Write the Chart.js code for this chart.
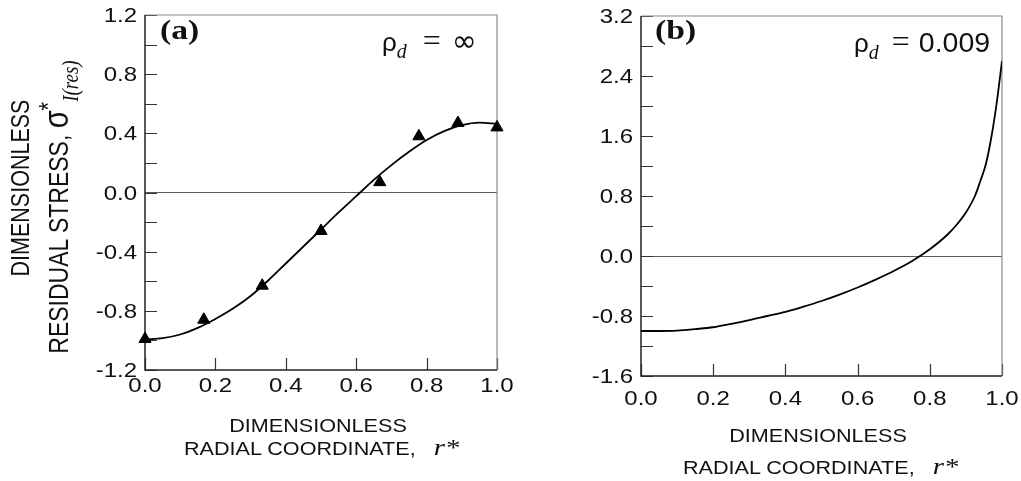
<!DOCTYPE html>
<html>
<head>
<meta charset="utf-8">
<script src="https://cdn.jsdelivr.net/npm/chart.js@4.4.1/dist/chart.umd.min.js"></script>
<style>
  html, body { margin: 0; padding: 0; background: #fff; }
  #page { position: relative; width: 1021px; height: 481px; overflow: hidden;
          font-family: "Liberation Sans", Arial, sans-serif; color: #111; }
  .box { position: absolute; top: 0; height: 481px; }
  #boxA { left: 0; width: 520px; }
  #boxB { left: 520px; width: 501px; }
  .t { position: absolute; white-space: nowrap; line-height: 1; }
  .t span { line-height: 0; }
  .xt { font-size: 18px; }
  .xt.c { transform: translate(-50%, -50%) scaleX(1.2); }
  .xt.l { transform-origin: 0 50%; transform: translate(0, -50%) scaleX(1.2); }
  .yt { transform: translate(-50%, -50%) rotate(-90deg) scaleY(1.2); }
  .panel { font: bold 28px "Liberation Serif", "Times New Roman", serif;
           transform-origin: 0 50%; transform: translate(0, -50%) scaleX(1.2); }
  .note { font-size: 28.5px; transform: translate(0, -50%); }
  .rho { font-size: 26px; }
  .sub { font: italic 20px "Liberation Serif", serif; position: relative; top: 7px; }
  .eq { font: 32px "Liberation Serif", serif; }
  .inf { font: 30px "DejaVu Sans", sans-serif; }
  .ri { font: italic 24px "Liberation Serif", serif; }
  .sig { font-size: 29px; }
  .star { position: relative; top: -9px; font-size: 22px; }
  .ires { font: italic 19px "Liberation Serif", serif; position: relative; top: 8px; }
</style>
</head>
<body>
<div id="page">
  <div class="box" id="boxA"><canvas id="chartA"></canvas></div>
  <div class="box" id="boxB"><canvas id="chartB"></canvas></div>

  <div class="t panel" style="left:160px; top:30px;">(a)</div>
  <div class="t note" style="left:382px; top:41px;"><span class="rho">ρ</span><span class="sub">d</span><span class="eq" style="margin-left:16px">=</span><span class="inf" style="margin-left:11px">∞</span></div>
  <div class="t panel" style="left:655px; top:30px;">(b)</div>
  <div class="t note" style="left:854px; top:42px;"><span class="rho">ρ</span><span class="sub">d</span><span class="eq" style="margin-left:13px">=</span><span style="margin-left:9px">0.009</span></div>

  <div class="t yt" style="left:21px; top:188px; font-size:21.5px;">DIMENSIONLESS</div>
  <div class="t yt" style="left:59px; top:207px; font-size:23px;">RESIDUAL STRESS, <span class="sig">σ</span><span class="star">*</span><span class="ires">I(res)</span></div>

  <div class="t xt c" style="left:318px; top:426px;">DIMENSIONLESS</div>
  <div class="t xt l" style="left:184px; top:449px;">RADIAL COORDINATE,&nbsp;&nbsp; <span class="ri">r*</span></div>
  <div class="t xt c" style="left:818px; top:436px;">DIMENSIONLESS</div>
  <div class="t xt l" style="left:683px; top:468px;">RADIAL COORDINATE,&nbsp;&nbsp; <span class="ri">r*</span></div>
</div>

<script>
// (a) rho_d = infinity: fitted curve and measured points
const fitR = [0, 0.05, 0.1, 0.15, 0.2, 0.25, 0.3, 0.35, 0.4, 0.45, 0.5,
              0.55, 0.6, 0.65, 0.7, 0.75, 0.8, 0.85, 0.9, 0.95, 1.0];
const fitStress = [-0.995, -0.985, -0.96, -0.915, -0.855, -0.785, -0.70, -0.595, -0.48, -0.365, -0.25,
                   -0.135, -0.025, 0.085, 0.185, 0.275, 0.355, 0.415, 0.455, 0.472, 0.465];
const expR = [0, 0.167, 0.333, 0.5, 0.667, 0.778, 0.889, 1.0];
const expStress = [-0.99, -0.86, -0.63, -0.26, 0.07, 0.38, 0.47, 0.44];

// (b) rho_d = 0.009
const curveR = [0, 0.05, 0.1, 0.15, 0.2, 0.25, 0.3, 0.35, 0.4, 0.45, 0.5, 0.55, 0.6, 0.65,
                0.7, 0.75, 0.8, 0.85, 0.875, 0.9, 0.925, 0.94, 0.955, 0.97, 0.985, 1.0];
const curveStress = [-1.0, -1.0, -0.995, -0.975, -0.95, -0.905, -0.855, -0.80, -0.745, -0.675, -0.60, -0.515, -0.42, -0.315,
                     -0.20, -0.07, 0.09, 0.29, 0.42, 0.58, 0.80, 1.0, 1.22, 1.57, 2.03, 2.6];

const xTickStep = 0.2;
const yTicksA = { min: -1.2, max: 1.2, step: 0.2 };
const yTicksB = { min: -1.6, max: 3.2, step: 0.4 };

// tick labels are a little wide, so they are drawn by hand with a horizontal stretch
const labelFont = '20px "Liberation Sans", Arial, sans-serif';
const labelStretch = 1.2;

const pts = (xs, ys) => xs.map((x, i) => ({ x, y: ys[i] }));
const fmt = v => (Math.abs(v) < 1e-9 ? 0 : v).toFixed(1);

function drawLabel(ctx, text, x, y, align) {
  ctx.save();
  ctx.translate(x, y);
  ctx.scale(labelStretch, 1);
  ctx.textAlign = align;
  ctx.textBaseline = 'alphabetic';
  ctx.fillText(text, 0, 0);
  ctx.restore();
}

// frame, inward tick marks and tick labels
function framePlugin(xBase) {
  return {
    id: 'frame',
    beforeDatasetsDraw(chart) {
      const { ctx, chartArea: a, scales: { x, y } } = chart;
      ctx.save();
      ctx.strokeStyle = '#333';
      ctx.lineWidth = 1.2;
      ctx.beginPath();
      y.ticks.forEach(t => {
        const py = Math.round(y.getPixelForValue(t.value)) + 0.5;
        ctx.moveTo(a.left, py); ctx.lineTo(a.left + 12, py);
      });
      x.ticks.forEach(t => {
        const px = Math.round(x.getPixelForValue(t.value)) + 0.5;
        ctx.moveTo(px, a.bottom); ctx.lineTo(px, a.bottom - 12);
      });
      ctx.stroke();
      ctx.strokeStyle = '#8a8a8a';
      ctx.beginPath();
      ctx.moveTo(a.left, a.top); ctx.lineTo(a.right, a.top); ctx.lineTo(a.right, a.bottom);
      ctx.stroke();
      ctx.strokeStyle = '#222';
      ctx.lineWidth = 1.5;
      ctx.beginPath();
      ctx.moveTo(a.left, a.top); ctx.lineTo(a.left, a.bottom); ctx.lineTo(a.right, a.bottom);
      ctx.stroke();

      ctx.fillStyle = '#111';
      ctx.font = labelFont;
      y.ticks.forEach(t => {
        if (t.label) drawLabel(ctx, t.label, a.left - 8, y.getPixelForValue(t.value) + 7, 'right');
      });
      x.ticks.forEach(t => {
        if (t.label) drawLabel(ctx, t.label, x.getPixelForValue(t.value), a.bottom + xBase, 'center');
      });
      ctx.restore();
    }
  };
}

function axesOptions(yt, yWidth, xHeight, pad) {
  return {
    animation: false,
    responsive: true,
    maintainAspectRatio: false,
    events: [],
    layout: { padding: pad },
    plugins: { legend: { display: false }, tooltip: { enabled: false } },
    scales: {
      x: {
        type: 'linear', min: 0, max: 1,
        border: { display: false },
        grid: { display: false },
        ticks: { display: false, stepSize: xTickStep, autoSkip: false, callback: v => fmt(v) },
        afterFit(s) { s.height = xHeight; s.paddingLeft = 0; s.paddingRight = 0; }
      },
      y: {
        min: yt.min, max: yt.max,
        border: { display: false },
        grid: { drawTicks: false, lineWidth: 1,
                color: c => (c.tick && Math.abs(c.tick.value) < 1e-9) ? '#5a5a5a' : 'rgba(0,0,0,0)' },
        ticks: { display: false, stepSize: yt.step, autoSkip: false,
                 callback: (v, i) => (i % 2 ? '' : fmt(v)) },
        afterFit(s) { s.width = yWidth; s.paddingTop = 0; s.paddingBottom = 0; }
      }
    }
  };
}

new Chart(document.getElementById('chartA'), {
  type: 'scatter',
  data: {
    datasets: [
      { data: pts(fitR, fitStress), showLine: true, borderColor: '#000', borderWidth: 1.8,
        pointRadius: 0, cubicInterpolationMode: 'monotone' },
      { data: pts(expR, expStress), pointStyle: 'triangle', pointRadius: 7,
        backgroundColor: '#000', borderColor: '#000', borderWidth: 1, clip: false }
    ]
  },
  options: axesOptions(yTicksA, 145, 111, { top: 15, right: 23, left: 0, bottom: 0 }),
  plugins: [framePlugin(22)]
});

new Chart(document.getElementById('chartB'), {
  type: 'scatter',
  data: {
    datasets: [
      { data: pts(curveR, curveStress), showLine: true, borderColor: '#000', borderWidth: 1.8,
        pointRadius: 0, cubicInterpolationMode: 'monotone' }
    ]
  },
  options: axesOptions(yTicksB, 121, 105, { top: 16, right: 19, left: 0, bottom: 0 }),
  plugins: [framePlugin(29)]
});
</script>
</body>
</html>
